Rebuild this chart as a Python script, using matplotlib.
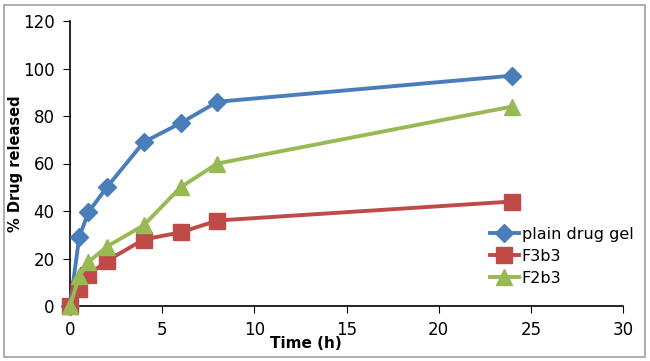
import matplotlib
matplotlib.use('Agg')
import matplotlib.pyplot as plt
from matplotlib.patches import Rectangle

time_h = [0, 0.5, 1, 2, 4, 6, 8, 24]
plain_gel = [0, 29, 39.5, 50, 69, 77, 86, 97]
f3b3 = [0, 7, 13, 19, 28, 31, 36, 44]
f2b3 = [0, 12.5, 18.5, 25, 34, 50, 60, 84]

fig = plt.figure(figsize=(6.5, 3.61), dpi=100)
ax = fig.add_axes([70 / 650, 1 - 306 / 361, 553 / 650, 285 / 361])

# grey frame round the chart
fig.patches.append(Rectangle((4 / 650, 4 / 361), 641 / 650, 352 / 361,
                             transform=fig.transFigure, fill=False,
                             edgecolor='#a0a0a0', lw=1.2))

ax.plot(time_h, plain_gel, '-D', color='#4a7ebb', lw=2.8, ms=9, label='plain drug gel', clip_on=False, zorder=3)
ax.plot(time_h, f3b3, '-s', color='#be4b48', lw=2.8, ms=11, label='F3b3', clip_on=False, zorder=4)
ax.plot(time_h, f2b3, '-^', color='#98b954', lw=2.8, ms=11, label='F2b3', clip_on=False, zorder=5)

ax.set_xlim(0, 30)
ax.set_ylim(0, 120)
ax.set_xticks(range(0, 31, 5))
ax.set_yticks(range(0, 121, 20))
ax.spines['top'].set_visible(False)
ax.spines['right'].set_visible(False)
ax.tick_params(direction='out', length=5, labelsize=12, pad=6)
for s in ax.spines.values():
    s.set_linewidth(1.2)

ax.set_ylabel('% Drug released', fontsize=10.5, fontweight='bold')
ax.yaxis.set_label_coords(-0.085, 0.5)
ax.set_xlabel('Time (h)', fontsize=11, fontweight='bold')
ax.xaxis.set_label_coords(0.426, -0.105)

ax.legend(loc='lower right', bbox_to_anchor=(1.045, 0.02), frameon=False,
          fontsize=11.5, handlelength=1.8, handletextpad=0.2, labelspacing=0.45)

fig.savefig('out.png', dpi=100)
